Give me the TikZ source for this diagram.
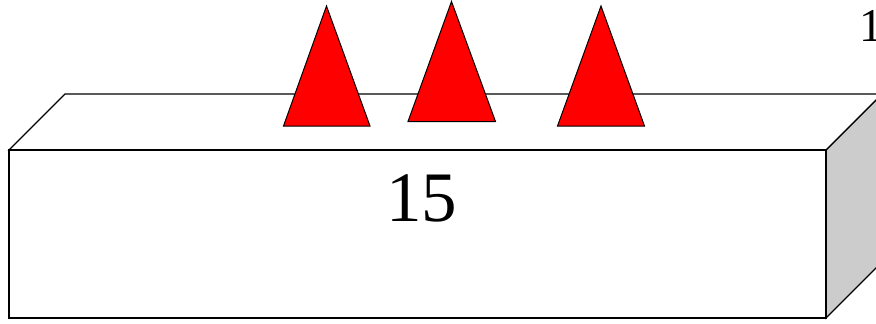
\documentclass[tikz,border=0pt]{standalone}
\usepackage{fontspec}
\setmainfont{Liberation Serif}
\usetikzlibrary{positioning}

\begin{document}
\begin{tikzpicture}[x=1pt,y=-1pt,
    edge/.style={draw=black,line width=1.2pt,line join=miter},
    cone/.style={draw=black,fill=red,line width=1pt,line join=miter},
    biglbl/.style={inner sep=0pt,anchor=base,font=\fontsize{71}{80}\selectfont},
    smalllbl/.style={inner sep=0pt,anchor=base west,font=\fontsize{47}{54}\selectfont}
]
\useasboundingbox (0,0) rectangle (876,324);
% box: right side, top, front
\path[edge,fill=gray!40] (826,150) -- (882,94) -- (882,262) -- (826,318) -- cycle;
\path[edge,fill=white] (9,150) -- (65,94) -- (882,94) -- (826,150) -- cycle;
\path[edge,fill=white] (9,150) rectangle (826,318);
% cones on top
\path[cone] (283.5,126) -- (326.5,6) -- (370,126) -- cycle;
\path[cone] (408,121.5) -- (451.5,1.5) -- (495.5,121.5) -- cycle;
\path[cone] (557.5,126) -- (601,6) -- (644.5,126) -- cycle;
\node[biglbl] (len) at (421.5,221.5) {15};
\node[smalllbl] (cut) at (859,41.5) {1};
\end{tikzpicture}
\end{document}
